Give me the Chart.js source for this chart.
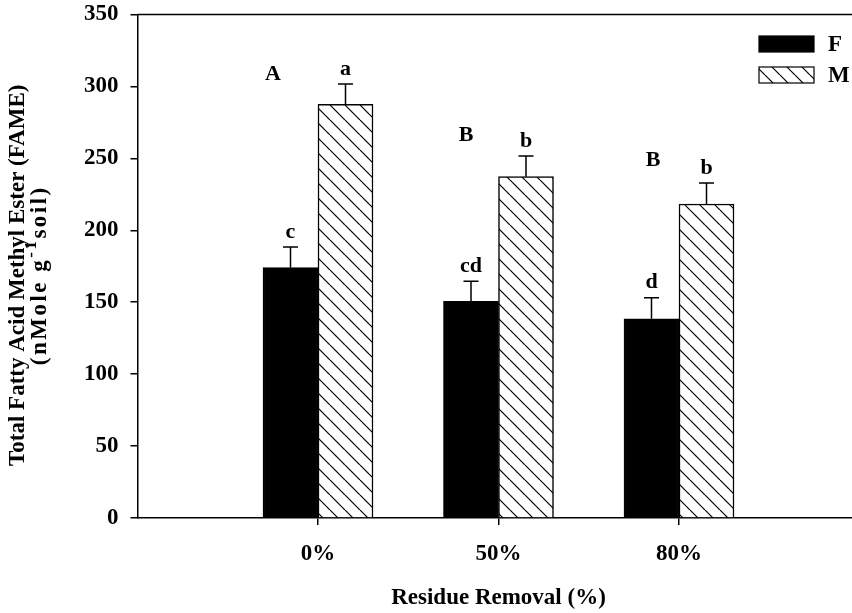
<!DOCTYPE html>
<html><head><meta charset="utf-8">
<script src="https://cdn.jsdelivr.net/npm/chart.js@4"></script>
<style>html,body{margin:0;padding:0;overflow:hidden;background:#fff}</style>
</head><body>
<canvas id="c" width="862" height="613"></canvas>
<script>
// ---- data ----
const categories = ['', '0%', '50%', '80%', ''];
const seriesNames = ['F', 'M'];
const fValues = [null, 174.0, 150.6, 138.5, null];
const mValues = [null, 287.6, 237.3, 218.3, null];
const fErrors = [null, 14.4, 14.0, 14.6, null];
const mErrors = [null, 14.1, 14.3, 14.6, null];
const fLetters = ['', 'c', 'cd', 'd', ''];
const mLetters = ['', 'a', 'b', 'b', ''];
const groupLetters = ['A', 'B', 'B'];
const groupLetterX = [0.751, 1.821, 2.856];
const groupLetterY = [308.5, 266.2, 248.8];
const yTickValues = [0, 50, 100, 150, 200, 250, 300, 350];
const xTitle = 'Residue Removal (%)';
const yTitleLine1 = 'Total Fatty Acid Methyl Ester (FAME)';
const yTitleLine2 = ['(nMole g', '-1', 'soil)'];

// ---- styles ----
const FONT = "'Liberation Serif', 'Times New Roman', serif";
function hatchPattern() {
  const s = 15;
  const c = document.createElement('canvas');
  c.width = s; c.height = s;
  const g = c.getContext('2d');
  g.fillStyle = '#fff'; g.fillRect(0, 0, s, s);
  g.strokeStyle = '#000'; g.lineWidth = 1.2;
  for (let k = -1; k <= 1; k++) {
    g.beginPath(); g.moveTo(k * s, 0); g.lineTo(k * s + s, s); g.stroke();
  }
  return g.createPattern(c, 'repeat');
}
const hatch = hatchPattern();

const annotations = {
  id: 'annotations',
  afterDatasetsDraw(chart) {
    const ctx = chart.ctx;
    const ys = chart.scales.y, xs = chart.scales.x;
    const errs = [fErrors, mErrors];
    const lets = [fLetters, mLetters];
    ctx.save();
    ctx.strokeStyle = '#000'; ctx.lineWidth = 1.5;
    ctx.fillStyle = '#000';
    ctx.font = 'bold 22px ' + FONT;
    ctx.textAlign = 'center'; ctx.textBaseline = 'middle';
    chart.data.datasets.forEach((ds, i) => {
      const meta = chart.getDatasetMeta(i);
      meta.data.forEach((el, j) => {
        const v = ds.data[j];
        if (v == null) return;
        const top = ys.getPixelForValue(v + errs[i][j]);
        ctx.beginPath();
        ctx.moveTo(el.x, el.y); ctx.lineTo(el.x, top);
        ctx.moveTo(el.x - 7.5, top); ctx.lineTo(el.x + 7.5, top);
        ctx.stroke();
        ctx.fillText(lets[i][j], el.x, top - 15);
      });
    });
    groupLetters.forEach((t, k) => {
      ctx.fillText(t, xs.getPixelForValue(groupLetterX[k]), ys.getPixelForValue(groupLetterY[k]));
    });
    ctx.restore();
  },
  afterDraw(chart) {
    const ctx = chart.ctx;
    const a = chart.chartArea;
    ctx.save();
    // top frame line
    ctx.strokeStyle = '#000'; ctx.lineWidth = 1.5;
    ctx.beginPath(); ctx.moveTo(a.left, a.top); ctx.lineTo(a.right, a.top); ctx.stroke();
    // legend
    const fills = ['#000', hatch];
    const lx = 759, ly = [36, 67], bw = 55, bh = 16;
    ctx.font = 'bold 23px ' + FONT;
    ctx.textAlign = 'left'; ctx.textBaseline = 'middle';
    seriesNames.forEach((n, k) => {
      ctx.fillStyle = fills[k];
      ctx.fillRect(lx, ly[k], bw, bh);
      ctx.strokeStyle = '#000'; ctx.lineWidth = 1.2;
      ctx.strokeRect(lx, ly[k], bw, bh);
      ctx.fillStyle = '#000';
      ctx.fillText(n, lx + bw + 14, ly[k] + bh / 2 + 1);
    });
    // y title (two lines, rotated)
    const cy = (a.top + a.bottom) / 2 + 9;
    ctx.translate(18, cy);
    ctx.rotate(-Math.PI / 2);
    ctx.textAlign = 'center';
    ctx.font = 'bold 23px ' + FONT;
    ctx.fillText(yTitleLine1, 0, 0);
    ctx.letterSpacing = '2.5px';
    const big = 'bold 23px ' + FONT, small = 'bold 17px ' + FONT;
    ctx.font = big; const w0 = ctx.measureText(yTitleLine2[0]).width, w2 = ctx.measureText(yTitleLine2[2]).width;
    ctx.font = small; const w1 = ctx.measureText(yTitleLine2[1]).width;
    let x0 = -(w0 + w1 + w2) / 2;
    ctx.textAlign = 'left';
    ctx.font = big; ctx.fillText(yTitleLine2[0], x0, 22);
    ctx.font = small; ctx.fillText(yTitleLine2[1], x0 + w0, 22 - 8);
    ctx.font = big; ctx.fillText(yTitleLine2[2], x0 + w0 + w1, 22);
    ctx.restore();
  }
};

new Chart(document.getElementById('c'), {
  type: 'bar',
  data: {
    labels: categories,
    datasets: [
      { label: seriesNames[0], data: fValues, backgroundColor: '#000', borderColor: '#000', borderWidth: 1.5 },
      { label: seriesNames[1], data: mValues, backgroundColor: hatch, borderColor: '#000', borderWidth: 1.5 }
    ]
  },
  options: {
    responsive: false,
    animation: false,
    devicePixelRatio: 1,
    barThickness: 55,
    layout: { padding: { top: 14.5, right: 2.5, left: 0, bottom: 0 } },
    plugins: { legend: { display: false }, tooltip: { enabled: false } },
    scales: {
      x: {
        type: 'category',
        offset: false,
        grid: {
          offset: false,
          drawOnChartArea: false, drawTicks: true, tickLength: 7, lineWidth: 1.5,
          tickColor: c => (categories[c.index] ? '#000' : 'rgba(0,0,0,0)')
        },
        border: { display: true, color: '#000', width: 1.5 },
        ticks: { color: '#000', font: { family: FONT, size: 23, weight: 'bold' }, padding: 15, maxRotation: 0, autoSkip: false },
        title: { display: true, text: xTitle, color: '#000', font: { family: FONT, size: 23, weight: 'bold' }, padding: { top: 0, bottom: 1 } },
        afterFit: s => { s.height = 95; s.paddingLeft = 0; s.paddingRight = 0; }
      },
      y: {
        min: 0, max: 350,
        afterBuildTicks: s => { s.ticks = yTickValues.map(v => ({ value: v })); },
        grid: { drawOnChartArea: false, drawTicks: true, tickLength: 7, lineWidth: 1.5, tickColor: '#000' },
        border: { display: true, color: '#000', width: 1.5 },
        ticks: { color: '#000', font: { family: FONT, size: 23, weight: 'bold' }, padding: 12 },
        afterFit: s => { s.width = 137.5; s.paddingTop = 0; s.paddingBottom = 0; }
      }
    }
  },
  plugins: [annotations]
});
</script>
</body></html>
